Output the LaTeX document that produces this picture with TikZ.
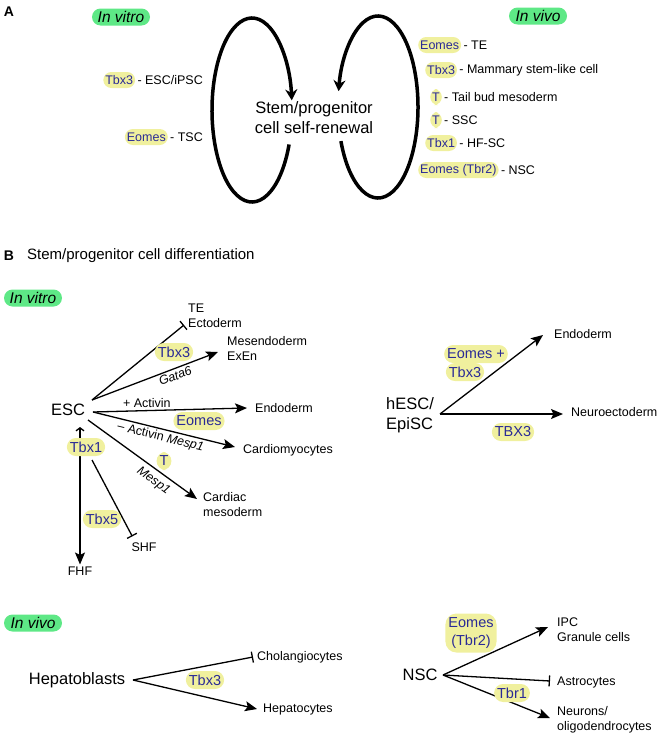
\documentclass[tikz,border=0pt]{standalone}
\usepackage{fontspec}
\setmainfont{Liberation Sans}
\usetikzlibrary{arrows.meta,positioning}
\definecolor{modelgreen}{RGB}{94,232,134}
\definecolor{geneyellow}{RGB}{240,240,158}
\definecolor{geneblue}{RGB}{42,42,150}
\newcommand{\smtxt}{\fontsize{12.5}{15}\selectfont}
\newcommand{\bigtxt}{\fontsize{16.5}{20}\selectfont}
\newcommand{\genetxt}{\fontsize{14.5}{18}\selectfont}
\newcommand{\modeltxt}{\fontsize{15.5}{16}\selectfont\itshape}

\begin{document}
\begin{tikzpicture}[
      x=1pt, y=-1pt,
      every node/.style={inner sep=2pt},
      lbl/.style={font=\smtxt, align=left},
      cell/.style={font=\bigtxt, align=left},
      gene/.style={fill=geneyellow, text=geneblue, font=\smtxt, rounded corners=8pt,
                   inner xsep=2pt, inner ysep=0pt, minimum height=16pt},
      geneB/.style={gene, font=\genetxt, rounded corners=9pt, inner xsep=3pt, minimum height=18pt},
      model/.style={fill=modelgreen, font=\modeltxt, rounded corners=8.5pt,
                    minimum width=58pt, minimum height=17pt},
      panel/.style={font=\bfseries\fontsize{14}{14}\selectfont},
      renewal/.style={line width=3.5pt, -{Stealth[length=11pt,width=12pt]}},
      act/.style={line width=1.3pt, -{Stealth[length=12pt,width=10pt,inset=2.5pt]}},
      inh/.style={line width=1.3pt, -{Bar[width=11pt,line width=1.3pt]}}
    ]
    \useasboundingbox (0,0) rectangle (658,736);
    % Panel A: self-renewal.
    \node[panel] (lblA) at (9,12) {A};
    \node[model] (vitroA) at (121,17) {In vitro};
    \node[model] (vivoA) at (538,16) {In vivo};
    \node[cell, align=center] (renew) at (314,118) {Stem/progenitor\\cell self-renewal};
    % Draw the two loops.
    \coordinate (lc) at (252,110);
    \coordinate (rc) at (378,107);
    \draw[renewal] ([shift={(22:40 and 92)}]lc) arc[start angle=22, end angle=354, x radius=40, y radius=92];
    \draw[renewal] ([shift={(158:40 and 91)}]rc) arc[start angle=158, end angle=-170, x radius=40, y radius=91];
    % In vitro cells.
    \node[lbl, anchor=east] (esci) at (205,80) {- ESC/iPSC};
    \node[gene, left=0pt of esci] (tbxA) {Tbx3};
    \node[lbl, anchor=east] (tsc) at (205,137) {- TSC};
    \node[gene, left=0pt of tsc] (eomA) {Eomes};
    % In vivo cells.
    \node[gene, anchor=west] (eomB) at (418,45) {Eomes};
    \node[lbl, right=0pt of eomB] (te0) {- TE};
    \node[gene, anchor=west] (tbxB) at (425,70) {Tbx3};
    \node[lbl, right=0pt of tbxB] (mam) {- Mammary stem-like cell};
    \node[gene, anchor=west] (tA) at (430,97) {T};
    \node[lbl, right=0pt of tA] (tail) {- Tail bud mesoderm};
    \node[gene, anchor=west] (tB) at (430,120) {T};
    \node[lbl, right=0pt of tB] (ssc) {- SSC};
    \node[gene, anchor=west] (tbxC) at (425,143) {Tbx1};
    \node[lbl, right=0pt of tbxC] (hfsc) {- HF-SC};
    \node[gene, anchor=west] (eomC) at (418,170) {Eomes (Tbr2)};
    \node[lbl, right=0pt of eomC] (nscA) {- NSC};

    % Panel B: differentiation.
    \node[panel] (lblB) at (9,256) {B};
    \node[anchor=west, font=\fontsize{15}{15}\selectfont] (titleB) at (25,256) {Stem/progenitor cell differentiation};
    \node[model] (vitroB) at (33,298) {In vitro};
    \node[model] (vivoB) at (33,623) {In vivo};
    % ESC and its fates.
    \node[cell] (esc) at (68,410) {ESC};
    \coordinate (escA) at (92,400);
    \coordinate (escB) at (93,412);
    \coordinate (escC) at (88,420);
    \coordinate (escD) at (80,427);
    \coordinate (escE) at (92,460);
    \node[lbl, anchor=west] (te) at (186,316) {TE\\Ectoderm};
    \node[lbl, anchor=west] (mes) at (225,348) {Mesendoderm\\ExEn};
    \node[lbl, anchor=west] (endo) at (253,408) {Endoderm};
    \node[lbl, anchor=west] (cardio) at (241,450) {Cardiomyocytes};
    \node[lbl, anchor=west] (cmes) at (201,505) {Cardiac\\mesoderm};
    \node[lbl] (fhf) at (80,571) {FHF};
    \node[lbl] (shf) at (144,547) {SHF};
    \draw[inh] (escA) -- ([shift={(-2,9)}]te.west);
    \draw[act] (escA) -- ([shift={(-7,4)}]mes.west)
      node[sloped, below, pos=0.64, font=\smtxt\itshape] (gata) {Gata6};
    \draw[act] (escB) -- ([shift={(-6,0)}]endo.west)
      node[above, pos=0.35, font=\smtxt] (plusact) {+ Activin};
    \draw[act] (escB) -- ([shift={(-6,-3)}]cardio.west)
      node[sloped, below, pos=0.49, font=\smtxt] (minusact) {-- Activin \textit{Mesp1}};
    \draw[act] (escC) -- ([shift={(-4,-6)}]cmes.west)
      node[sloped, below=3pt, pos=0.66, font=\smtxt\itshape] (mesp) {Mesp1};
    \draw[act, {Straight Barb[length=3pt,width=8pt]}-{Stealth[length=12pt,width=10pt,inset=2.5pt]}] (escD) -- (fhf.north);
    \draw[inh] (escE) -- ([shift={(3,-4)}]shf.north west);
    \node[geneB] (tbxD) at (174,352) {Tbx3};
    \node[geneB] (eomD) at (199,421) {Eomes};
    \node[geneB] (tD) at (164,461) {T};
    \node[geneB] (tbxE) at (86,447) {Tbx1};
    \node[geneB] (tbxF) at (102,519) {Tbx5};
    % hESC/EpiSC.
    \node[cell] (hesc) at (410,415) {hESC/\\EpiSC};
    \coordinate (hescO) at (440,414);
    \node[lbl, anchor=west] (endoB) at (552,334) {Endoderm};
    \node[lbl, anchor=west] (neuro) at (569,412) {Neuroectoderm};
    \draw[act] (hescO) -- ([shift={(-9,1)}]endoB.west);
    \draw[act] (hescO) -- ([shift={(-6,2)}]neuro.west);
    \node[geneB] (eomE) at (476,354) {Eomes +};
    \node[geneB] (tbxG) at (465,372) {Tbx3};
    \node[geneB] (tbxH) at (513,432) {TBX3};
    % In vivo: hepatoblasts.
    \node[cell] (hep) at (77,680) {Hepatoblasts};
    \coordinate (hepO) at (133,680);
    \node[lbl, anchor=west] (chol) at (255,657) {Cholangiocytes};
    \node[lbl, anchor=west] (hepc) at (261,709) {Hepatocytes};
    \draw[inh] (hepO) -- ([shift={(-2,0)}]chol.west);
    \draw[act] (hepO) -- ([shift={(-4,0)}]hepc.west);
    \node[geneB] (tbxI) at (205,680) {Tbx3};
    % In vivo: NSC.
    \node[cell] (nsc) at (420,675) {NSC};
    \coordinate (nscO) at (443,675);
    \node[lbl, anchor=west] (ipc) at (555,630) {IPC\\Granule cells};
    \node[lbl, anchor=west] (astro) at (555,682) {Astrocytes};
    \node[lbl, anchor=west] (neur) at (555,720) {Neurons/\\oligodendrocytes};
    \draw[act] (nscO) -- ([shift={(-7,-3)}]ipc.west);
    \draw[inh] (nscO) -- ([shift={(-5,-1)}]astro.west);
    \draw[act] (nscO) -- ([shift={(-5,-2)}]neur.west);
    \node[geneB, align=center, rounded corners=11pt, minimum height=39pt, font=\fontsize{14.5}{18}\selectfont] (eomF) at (471,633) {Eomes\\(Tbr2)};
    \node[geneB] (tbrA) at (512,693) {Tbr1};
\end{tikzpicture}
\end{document}
